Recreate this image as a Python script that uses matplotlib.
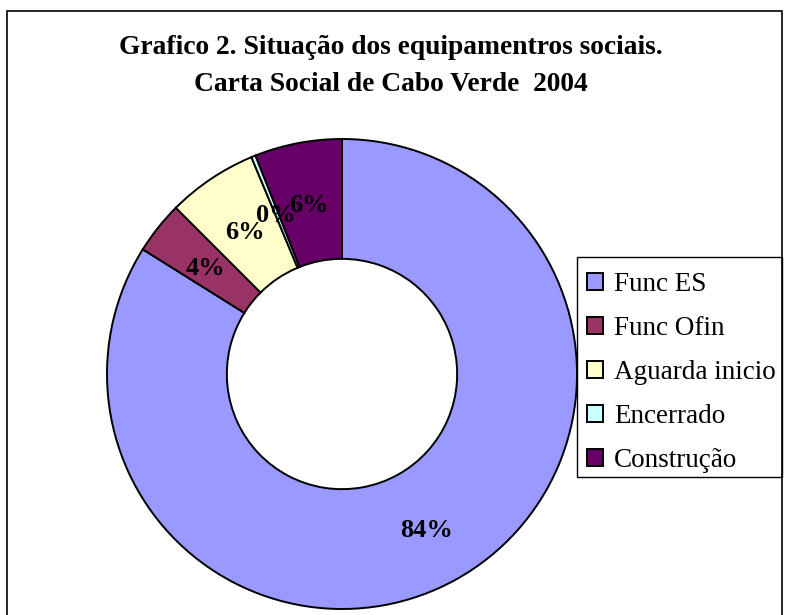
import matplotlib
matplotlib.use('Agg')
import matplotlib.pyplot as plt
from matplotlib.patches import Rectangle, Patch

categories = ['Func ES', 'Func Ofin', 'Aguarda inicio', 'Encerrado', 'Construção']
values = [83.9, 3.6, 6.2, 0.3, 6.0]
colors = ['#9999FF', '#993366', '#FFFFCC', '#CCFFFF', '#660066']
title = 'Grafico 2. Situação dos equipamentros sociais.\nCarta Social de Cabo Verde  2004'

plt.rcParams['font.family'] = ['Liberation Serif', 'DejaVu Serif']

W, H = 787, 615
fig = plt.figure(figsize=(W / 100, H / 100), dpi=100)

def px_box(x0, y0, x1, y1):
    # pixel box (top-left origin) -> figure fraction rectangle
    return (x0 / W, 1 - y1 / H), (x1 - x0) / W, (y1 - y0) / H

# outer chart frame (bottom edge is cut off in the original)
xy, w, h = px_box(7, 11, 782, 640)
fig.add_artist(Rectangle(xy, w, h, transform=fig.transFigure, fill=False,
                         edgecolor='black', linewidth=1.2))

fig.text(391 / W, 1 - 66 / H, title, ha='center', va='center',
         fontsize=19.8, fontweight='bold', linespacing=1.58)

cx, cy, r = 342, H - 374, 235
ax = fig.add_axes([(cx - r) / W, (cy - r) / H, 2 * r / W, 2 * r / H])
wedges, texts, autotexts = ax.pie(
    values, colors=colors, startangle=90, counterclock=False, radius=1,
    wedgeprops=dict(width=0.51, edgecolor='black', linewidth=1.4),
    autopct=lambda p: '%.0f%%' % p, pctdistance=0.745,
    textprops=dict(fontsize=19, fontweight='bold', color='black'))
for t in autotexts:
    x, y = t.get_position()
    t.set_position((x, y - 0.015))
ax.set_xlim(-1, 1)
ax.set_ylim(-1, 1)
ax.set_aspect('equal')
ax.axis('off')

# legend frame drawn separately so padding can differ per side
xy, w, h = px_box(577, 257, 782, 477)
fig.add_artist(Rectangle(xy, w, h, transform=fig.transFigure, fill=False,
                         edgecolor='black', linewidth=1.0))

handles = [Patch(facecolor=c, edgecolor='black', linewidth=1.4) for c in colors]
leg = fig.legend(handles, categories, loc='upper left',
                 bbox_to_anchor=(587 / W, 1 - 272 / H), borderaxespad=0,
                 frameon=False, borderpad=0,
                 fontsize=19.5, handlelength=0.6, handleheight=0.6,
                 handletextpad=0.4, labelspacing=0.7)

fig.savefig('out.png', dpi=100)
